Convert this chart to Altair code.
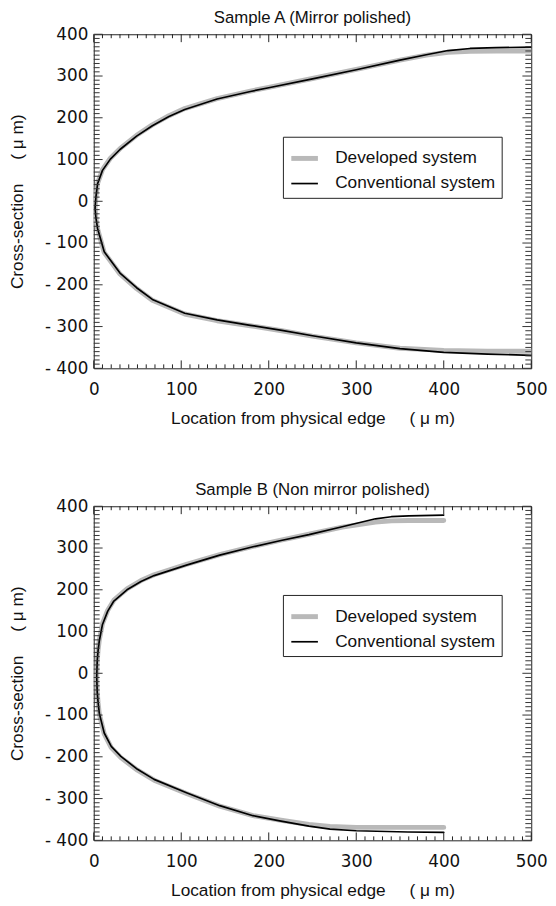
import altair as alt
import pandas as pd

series_names = ["Developed system", "Conventional system"]
series_colors = ["#b9b9b9", "#000000"]
series_widths = [5, 1.7]

# ---------------- Panel A (Mirror polished) ----------------
a_conv_up_x = [1.5, 2.5, 4.4, 10, 19, 30, 49, 67, 86, 104, 141, 179, 200, 250, 300, 350, 380, 405, 430, 460, 500]
a_conv_up_y = [-16, 10, 42, 74, 101, 124, 156, 181, 203, 220, 245, 263, 272, 293, 315, 338, 351, 361, 366, 368, 369]
a_conv_lo_x = [2.5, 4.4, 12, 30, 49, 67, 104, 141, 179, 215, 250, 300, 350, 400, 450, 500]
a_conv_lo_y = [-40, -65, -121, -172, -207, -235, -268, -284, -297, -309, -322, -339, -353, -362, -366, -369]

a_dev_up_x = [1.5, 2.5, 4.4, 10, 19, 30, 49, 67, 86, 104, 141, 179, 200, 250, 300, 350, 380, 405, 430, 460, 500]
a_dev_up_y = [-16, 11, 43, 76, 103, 126, 158, 183, 205, 222, 246, 264, 273, 294, 316, 338, 350, 357, 359, 360, 360]
a_dev_lo_x = [2.5, 4.4, 12, 30, 49, 67, 104, 141, 179, 215, 250, 300, 350, 400, 450, 500]
a_dev_lo_y = [-41, -66, -123, -174, -209, -237, -270, -286, -298, -310, -323, -339, -352, -357, -359, -359]

# ---------------- Panel B (Non mirror polished) ----------------
b_conv_up_x = [3.4, 4, 5, 6.4, 10, 16, 23, 38, 54, 69, 106, 144, 182, 214, 246, 284, 322, 340, 360, 400]
b_conv_up_y = [-9, 30, 55, 78, 117, 149, 173, 200, 220, 234, 259, 283, 303, 318, 332, 351, 370, 375, 377, 379]
b_conv_lo_x = [4, 5, 6.4, 12, 20, 31, 50, 69, 106, 144, 182, 214, 246, 270, 300, 359, 400]
b_conv_lo_y = [-45, -70, -96, -143, -175, -199, -230, -254, -286, -317, -341, -354, -366, -373, -377, -380, -381]

b_dev_up_x = [3.4, 4, 5, 6.4, 10, 16, 23, 38, 54, 69, 106, 144, 182, 214, 246, 284, 322, 340, 360, 400]
b_dev_up_y = [-9, 30, 56, 80, 119, 151, 175, 202, 222, 236, 261, 284, 304, 319, 333, 350, 362, 365, 366, 366]
b_dev_lo_x = [4, 5, 6.4, 12, 20, 31, 50, 69, 106, 144, 182, 214, 246, 270, 300, 359, 400]
b_dev_lo_y = [-45, -71, -98, -145, -178, -202, -232, -256, -288, -318, -341, -352, -362, -367, -369, -369, -369]

# axis ticks
x_major = [0, 100, 200, 300, 400, 500]
x_minor = [v for v in range(0, 501, 10) if v % 100 != 0]
y_major = [-400, -300, -200, -100, 0, 100, 200, 300, 400]
y_minor = [v for v in range(-400, 401, 10) if v % 100 != 0]

W, H = 444, 339
FONT = "Liberation Sans"
TICKFONT = "DejaVu Sans"
NB = "\u00a0"
X_TITLE = "Location from physical edge" + NB * 5 + "(" + NB + "μ" + NB + "m)"
Y_TITLE = "Cross-section" + NB * 5 + "(" + NB + "μ" + NB + "m)"


def curve_rows(series, up_x, up_y, lo_x, lo_y):
    rows = []
    pts = list(zip(up_x, up_y))[::-1] + list(zip(lo_x, lo_y))
    for i, (xv, yv) in enumerate(pts):
        rows.append({"series": series, "x": xv, "y": yv, "idx": i})
    return rows


def panel(title, dev, conv, legend_y):
    df = pd.DataFrame(curve_rows(series_names[0], *dev) + curve_rows(series_names[1], *conv))
    xs = alt.Scale(domain=[0, 500], nice=False, zero=False)
    ys = alt.Scale(domain=[-400, 400], nice=False, zero=False)

    leg = alt.Legend(
        title=None, orient="none", legendX=192, legendY=legend_y,
        strokeColor="#222", fillColor="white", padding=6, rowPadding=1,
        symbolType="stroke", symbolSize=729, labelFont=FONT, labelFontSize=17.5,
        labelColor="#111", labelOffset=15, labelLimit=400, cornerRadius=0,
    )
    x_axis = alt.Axis(
        values=x_major, ticks=False, domain=False, grid=False,
        labelFont=TICKFONT, labelFontSize=17, labelColor="#111", labelPadding=14,
        labelFlush=False, labelOverlap=False,
        title=X_TITLE, titleFont=FONT,
        titleFontSize=17.5, titleFontWeight="normal", titleColor="#111", titlePadding=12,
    )
    y_axis = alt.Axis(
        values=y_major, ticks=False, domain=False, grid=False,
        labelExpr="datum.value < 0 ? '- ' + abs(datum.value) : datum.label",
        labelFont=TICKFONT, labelFontSize=17, labelColor="#111", labelPadding=6,
        labelFlush=False, labelOverlap=False,
        title=Y_TITLE, titleFont=FONT, titleFontSize=17.5,
        titleFontWeight="normal", titleColor="#111", titlePadding=18,
    )

    lines = alt.Chart(df).mark_line(clip=True, strokeCap="round", strokeJoin="round").encode(
        x=alt.X("x:Q", scale=xs, axis=x_axis),
        y=alt.Y("y:Q", scale=ys, axis=y_axis),
        color=alt.Color("series:N", scale=alt.Scale(domain=series_names, range=series_colors), legend=leg),
        strokeWidth=alt.StrokeWidth("series:N", scale=alt.Scale(domain=series_names, range=series_widths), legend=leg),
        order=alt.Order("idx:Q"),
    )

    layers = [lines]
    xt_major = pd.DataFrame({"v": x_major})
    xt_minor = pd.DataFrame({"v": x_minor})
    yt_major = pd.DataFrame({"v": y_major})
    yt_minor = pd.DataFrame({"v": y_minor})
    for d, L in [(xt_major, 8), (xt_minor, 4)]:
        base = alt.Chart(d).mark_rule(color="#222", strokeWidth=1)
        layers.append(base.encode(x=alt.X("v:Q", scale=xs, axis=x_axis), y=alt.value(0), y2=alt.value(L)))
        layers.append(base.encode(x=alt.X("v:Q", scale=xs, axis=x_axis), y=alt.value(H), y2=alt.value(H - L)))
    for d, L in [(yt_major, 9), (yt_minor, 6)]:
        base = alt.Chart(d).mark_rule(color="#333", strokeWidth=1)
        layers.append(base.encode(y=alt.Y("v:Q", scale=ys, axis=y_axis), x=alt.value(0), x2=alt.value(L)))
        layers.append(base.encode(y=alt.Y("v:Q", scale=ys, axis=y_axis), x=alt.value(W), x2=alt.value(W - L)))

    return alt.layer(*layers).properties(
        width=W, height=H,
        title=alt.TitleParams(text=title, font=FONT, fontSize=17, fontWeight="normal",
                              color="#111", offset=-2, frame="group", anchor="middle"),
    )


pA = panel("Sample A (Mirror polished)",
           (a_dev_up_x, a_dev_up_y, a_dev_lo_x, a_dev_lo_y),
           (a_conv_up_x, a_conv_up_y, a_conv_lo_x, a_conv_lo_y), 104)
pB = panel("Sample B (Non mirror polished)",
           (b_dev_up_x, b_dev_up_y, b_dev_lo_x, b_dev_lo_y),
           (b_conv_up_x, b_conv_up_y, b_conv_lo_x, b_conv_lo_y), 90)

chart = alt.vconcat(pA, pB, spacing=54).resolve_scale(
    color="independent", strokeWidth="independent"
).resolve_legend(color="independent", strokeWidth="independent").properties(
    padding={"left": 0, "top": -6, "right": 0, "bottom": 0},
    background="white",
).configure_view(stroke="#222", strokeWidth=1)

chart.save("out.html", embed_options={"renderer": "svg", "actions": False})
